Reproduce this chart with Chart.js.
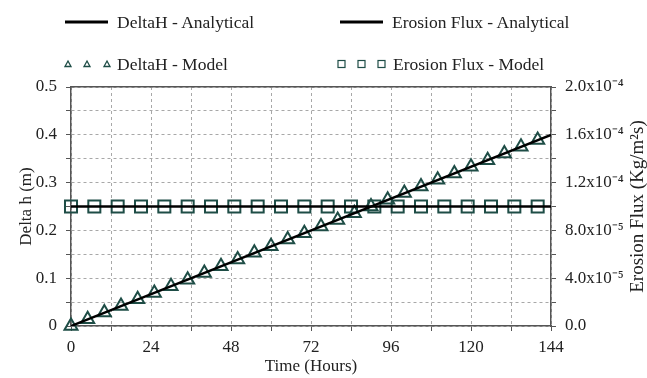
<!DOCTYPE html>
<html lang="en">
  <head>
    <meta charset="UTF-8" />
    <title>DeltaH and Erosion Flux</title>
    <script src="https://cdn.jsdelivr.net/npm/chart.js"></script>
    <style>
      body {
        margin: 0;
        background: #fff;
        font-family: "Liberation Serif", "Times New Roman", serif;
      }
      #wrap {
        position: relative;
        width: 647px;
        height: 378px;
      }
      .leg {
        position: absolute;
        height: 24px;
        display: flex;
        align-items: center;
        font-size: 17.5px;
        color: #222;
        white-space: nowrap;
      }
      .leg svg {
        margin-right: 9px;
      }
    </style>
  </head>
  <body>
    <div id="wrap">
      <canvas id="chart" width="647" height="378"></canvas>
      <div class="leg" style="left: 65px; top: 10px">
        <svg width="43" height="6"><line x1="0" y1="3" x2="43" y2="3" stroke="#000" stroke-width="3" /></svg>DeltaH - Analytical
      </div>
      <div class="leg" style="left: 340px; top: 10px">
        <svg width="43" height="6"><line x1="0" y1="3" x2="43" y2="3" stroke="#000" stroke-width="3" /></svg>Erosion Flux - Analytical
      </div>
      <div class="leg" style="left: 64px; top: 52px">
        <svg width="48" height="10" style="margin-right: 5px">
          <polygon points="4,2 7,7.5 1,7.5" fill="none" stroke="#1e4d46" stroke-width="1.3" />
          <polygon points="23,2 26,7.5 20,7.5" fill="none" stroke="#1e4d46" stroke-width="1.3" />
          <polygon points="43,2 46,7.5 40,7.5" fill="none" stroke="#1e4d46" stroke-width="1.3" />
        </svg>DeltaH - Model
      </div>
      <div class="leg" style="left: 337px; top: 52px">
        <svg width="50" height="10" style="margin-right: 6px">
          <rect x="1" y="1.5" width="7" height="7" fill="none" stroke="#1e4d46" stroke-width="1.2" />
          <rect x="21" y="1.5" width="7" height="7" fill="none" stroke="#1e4d46" stroke-width="1.2" />
          <rect x="41" y="1.5" width="7" height="7" fill="none" stroke="#1e4d46" stroke-width="1.2" />
        </svg>Erosion Flux - Model
      </div>
    </div>

    <script>
      // model output, DeltaH sampled every 5 hours
      const hModelHours = [0, 5, 10, 15, 20, 25, 30, 35, 40, 45, 50, 55, 60, 65, 70,
        75, 80, 85, 90, 95, 100, 105, 110, 115, 120, 125, 130, 135, 140];
      const hModel = [0, 0.014, 0.028, 0.042, 0.056, 0.069, 0.083, 0.097, 0.111, 0.125,
        0.139, 0.153, 0.167, 0.181, 0.194, 0.208, 0.222, 0.236, 0.25, 0.264, 0.278,
        0.292, 0.306, 0.319, 0.333, 0.347, 0.361, 0.375, 0.389];

      // model output, erosion flux sampled every 7 hours
      const fluxModelHours = [0, 7, 14, 21, 28, 35, 42, 49, 56, 63, 70, 77, 84, 91, 98,
        105, 112, 119, 126, 133, 140];
      const fluxModel = [1e-4, 1e-4, 1e-4, 1e-4, 1e-4, 1e-4, 1e-4, 1e-4, 1e-4, 1e-4,
        1e-4, 1e-4, 1e-4, 1e-4, 1e-4, 1e-4, 1e-4, 1e-4, 1e-4, 1e-4, 1e-4];

      // analytical solutions (straight lines)
      const analyticHours = [0, 144];
      const hAnalytic = [0, 0.4];
      const fluxAnalytic = [1e-4, 1e-4];

      const xLabels = ["0", "24", "48", "72", "96", "120", "144"];
      const yLeftLabels = ["0", "0.1", "0.2", "0.3", "0.4", "0.5"];
      const yRightLabels = ["0.0", "4.0x10\u207B\u2075", "8.0x10\u207B\u2075",
        "1.2x10\u207B\u2074", "1.6x10\u207B\u2074", "2.0x10\u207B\u2074"];

      const pts = (xs, ys) => xs.map((x, i) => ({ x: x, y: ys[i] }));

      const serif = "'Liberation Serif', 'Times New Roman', serif";
      const markColor = "#1e4d46";
      const axisColor = "#555";
      const gridColor = "#a8a8a8";
      const every2 = (labels) => (v, i) => (i % 2 === 0 ? labels[i / 2] : "");

      // right axis title reads bottom-to-top, so draw it ourselves
      const rightTitle = {
        id: "rightTitle",
        afterDraw(chart) {
          const ctx = chart.ctx;
          const a = chart.chartArea;
          ctx.save();
          ctx.translate(638, (a.top + a.bottom) / 2);
          ctx.rotate(-Math.PI / 2);
          ctx.font = "19px " + serif;
          ctx.fillStyle = "#222";
          ctx.textAlign = "center";
          ctx.textBaseline = "middle";
          ctx.fillText("Erosion Flux (Kg/m\u00B2s)", 0, 0);
          ctx.restore();
        },
      };

      new Chart(document.getElementById("chart"), {
        type: "scatter",
        data: {
          datasets: [
            {
              label: "DeltaH - Analytical",
              data: pts(analyticHours, hAnalytic),
              yAxisID: "y",
              showLine: true,
              borderColor: "#000",
              borderWidth: 2.5,
              pointRadius: 0,
              order: 0,
            },
            {
              label: "Erosion Flux - Analytical",
              data: pts(analyticHours, fluxAnalytic),
              yAxisID: "y1",
              showLine: true,
              borderColor: "#000",
              borderWidth: 2.5,
              pointRadius: 0,
              order: 0,
            },
            {
              label: "DeltaH - Model",
              data: pts(hModelHours, hModel),
              yAxisID: "y",
              pointStyle: "triangle",
              pointRadius: 7.5,
              pointBorderWidth: 2,
              pointBorderColor: markColor,
              pointBackgroundColor: "rgba(0,0,0,0)",
              clip: false,
              order: 1,
            },
            {
              label: "Erosion Flux - Model",
              data: pts(fluxModelHours, fluxModel),
              yAxisID: "y1",
              pointStyle: "rect",
              pointRadius: 8.5,
              pointBorderWidth: 2,
              pointBorderColor: markColor,
              pointBackgroundColor: "rgba(0,0,0,0)",
              clip: false,
              order: 1,
            },
          ],
        },
        options: {
          responsive: false,
          animation: false,
          layout: { padding: { top: 87, left: 0, right: 0, bottom: 0 } },
          plugins: { legend: { display: false }, tooltip: { enabled: false } },
          scales: {
            x: {
              type: "linear",
              min: 0,
              max: 144,
              afterFit: (s) => { s.height = 52; },
              ticks: {
                stepSize: 12,
                autoSkip: false,
                maxRotation: 0,
                padding: 6,
                color: "#222",
                font: { family: serif, size: 17 },
                callback: every2(xLabels),
              },
              grid: { color: gridColor, tickColor: axisColor, tickLength: 5 },
              border: { color: axisColor, width: 1.5, dash: [3, 3] },
              title: {
                display: true,
                text: "Time (Hours)",
                color: "#222",
                font: { family: serif, size: 17 },
                padding: { top: 0, bottom: 1 },
              },
            },
            x2: {
              type: "linear",
              position: "top",
              min: 0,
              max: 144,
              afterFit: (s) => { s.height = 0; },
              ticks: { display: false },
              grid: { drawOnChartArea: false, drawTicks: false },
              border: { color: axisColor, width: 1.5 },
            },
            y: {
              position: "left",
              min: 0,
              max: 0.5,
              afterFit: (s) => { s.width = 71; },
              ticks: {
                stepSize: 0.05,
                autoSkip: false,
                padding: 9,
                color: "#222",
                font: { family: serif, size: 17 },
                callback: every2(yLeftLabels),
              },
              grid: { color: gridColor, tickColor: axisColor, tickLength: 5 },
              border: { color: axisColor, width: 1.5, dash: [3, 3] },
              title: {
                display: true,
                text: "Delta h (m)",
                color: "#222",
                font: { family: serif, size: 17 },
                padding: { top: 16, bottom: 0 },
              },
            },
            y1: {
              position: "right",
              min: 0,
              max: 2e-4,
              afterFit: (s) => { s.width = 96; },
              ticks: {
                stepSize: 2e-5,
                autoSkip: false,
                padding: 9,
                color: "#222",
                font: { family: serif, size: 17 },
                callback: every2(yRightLabels),
              },
              grid: { drawOnChartArea: false, tickColor: axisColor, tickLength: 5 },
              border: { color: axisColor, width: 1.5 },
            },
          },
        },
        plugins: [rightTitle],
      });
    </script>
  </body>
</html>
